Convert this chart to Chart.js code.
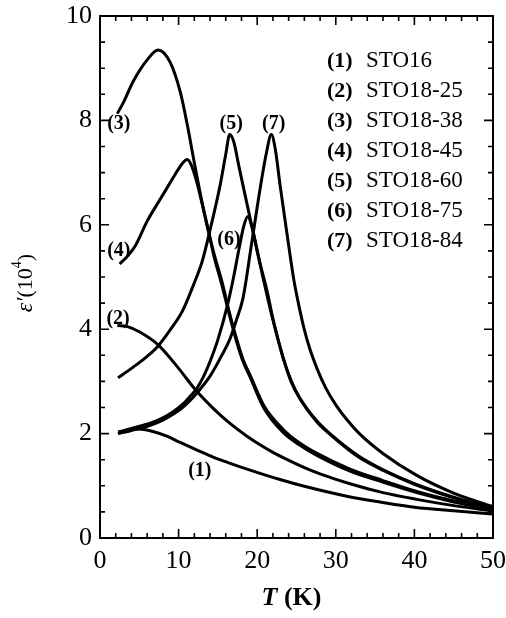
<!DOCTYPE html>
<html>
<head>
<meta charset="utf-8">
<script src="https://cdn.jsdelivr.net/npm/chart.js@4.4.1/dist/chart.umd.min.js"></script>
<style>
body { margin: 0; background: #fff; }
#wrap { width: 506px; height: 618px; position: relative; }
</style>
</head>
<body>
<div id="wrap"><canvas id="myChart"></canvas></div>
<script>
// sample names (legend order)
const names = ['STO16', 'STO18-25', 'STO18-38', 'STO18-45', 'STO18-60', 'STO18-75', 'STO18-84'];

// T (K) and eps' (10^4)
const t1 = [2.3, 3.5, 5, 6.5, 8.5, 10.2, 12.7, 14.4, 16.2, 18.7, 22.9, 26, 31.4, 36, 40, 45, 50];
const e1 = [2.0, 2.07, 2.09, 2.05, 1.95, 1.83, 1.66, 1.55, 1.45, 1.32, 1.12, 0.99, 0.8, 0.68, 0.59, 0.52, 0.46];

const t2 = [2.2, 3.5, 5, 7.4, 10, 12.2, 14.5, 16.5, 18.7, 20, 22, 23.3, 26, 28, 31.8, 36, 40.3, 45, 50];
const e2 = [4.07, 4.05, 3.95, 3.7, 3.25, 2.83, 2.47, 2.2, 1.95, 1.82, 1.64, 1.54, 1.35, 1.23, 1.04, 0.87, 0.74, 0.62, 0.52];

const t3 = [2.2, 3, 4.2, 6, 7.4, 8.9, 10.2, 11.1, 11.9, 12.7, 13.6, 14.5, 15.5, 16.5, 17.5, 18.2, 19.1, 20.8, 23.3, 25.4, 27.6, 31.8, 36, 40.3, 45, 50];
const e3 = [8.13, 8.35, 8.74, 9.16, 9.35, 9.12, 8.55, 7.92, 7.27, 6.64, 6.0, 5.45, 4.92, 4.3, 3.75, 3.42, 3.12, 2.55, 2.08, 1.82, 1.62, 1.32, 1.1, 0.89, 0.71, 0.56];

const t4 = [2.5, 3.5, 4.5, 6, 7.5, 8.5, 9.5, 10.5, 11.1, 11.6, 12.3, 13, 13.7, 14.5, 15.5, 16.5, 17.5, 18.2, 19.1, 20.8, 23.3, 25.4, 27.6, 31.8, 36, 40.3, 45, 50];
const e4 = [5.25, 5.4, 5.6, 6.07, 6.45, 6.7, 6.95, 7.18, 7.25, 7.15, 6.83, 6.4, 5.95, 5.4, 4.85, 4.25, 3.7, 3.38, 3.08, 2.5, 2.02, 1.78, 1.58, 1.28, 1.07, 0.87, 0.69, 0.54];

const t5 = [2.3, 4, 6, 7.4, 9, 10.5, 11.9, 13, 14, 15.3, 16, 16.5, 17, 17.7, 18.7, 19.5, 20.3, 21.3, 22, 23.3, 24.3, 25.4, 27.6, 29.7, 33, 36.1, 40, 45, 50];
const e5 = [3.07, 3.25, 3.48, 3.68, 4.0, 4.35, 4.85, 5.3, 5.9, 6.77, 7.35, 7.73, 7.6, 7.1, 6.4, 5.85, 5.3, 4.7, 4.2, 3.45, 3.0, 2.68, 2.24, 1.94, 1.56, 1.3, 1.04, 0.78, 0.57];

const t6 = [2.3, 4, 6.4, 8, 9.3, 10.5, 11.5, 12.3, 13.2, 14, 15, 16.2, 17, 17.7, 18.3, 18.8, 19.3, 20, 20.8, 21.4, 22.3, 23.3, 24.3, 25.4, 27.6, 29.7, 33, 36.1, 40, 45, 50];
const e6 = [2.03, 2.1, 2.2, 2.3, 2.42, 2.56, 2.72, 2.86, 3.1, 3.38, 3.8, 4.45, 5.0, 5.55, 5.98, 6.16, 5.98, 5.5, 4.95, 4.55, 4.0, 3.45, 3.02, 2.68, 2.22, 1.93, 1.54, 1.29, 1.03, 0.77, 0.56];

const t7 = [2.3, 4, 6.4, 8, 9.3, 10.5, 11.5, 12.3, 14, 15.5, 16.5, 17.3, 18.2, 19.3, 20.4, 21.2, 21.8, 22.3, 22.9, 23.8, 24.6, 25.1, 25.9, 26.7, 27.6, 28.7, 30, 31.5, 33, 36, 40.3, 45, 50];
const e7 = [2.0, 2.06, 2.16, 2.26, 2.37, 2.5, 2.64, 2.77, 3.1, 3.5, 3.8, 4.15, 4.6, 5.65, 6.72, 7.4, 7.73, 7.45, 6.77, 5.82, 5.0, 4.6, 4.05, 3.62, 3.25, 2.88, 2.55, 2.25, 2.0, 1.62, 1.2, 0.86, 0.6];

// axis ticks
const xMin = 0, xMax = 50, xMajor = 10, xMinor = 2;
const yMin = 0, yMax = 10, yMajor = 2, yMinor = 0.5;

// curve number tags, placed in data coordinates
const tagText = ['(3)', '(4)', '(2)', '(5)', '(7)', '(6)', '(1)'];
const tagT = [2.4, 2.4, 2.3, 16.7, 22.1, 16.4, 12.7];
const tagE = [7.94, 5.5, 4.2, 7.94, 7.94, 5.72, 1.28];

function pts(t, e) {
    return t.map(function (x, i) { return { x: x, y: e[i] }; });
}

const serif = "'Liberation Serif', 'DejaVu Serif', serif";
const curves = [[t1, e1], [t2, e2], [t3, e3], [t4, e4], [t5, e5], [t6, e6], [t7, e7]];

const datasets = curves.map(function (c, i) {
    return {
        label: names[i],
        data: pts(c[0], c[1]),
        borderColor: '#000',
        borderWidth: 3,
        pointRadius: 0,
        fill: false,
        cubicInterpolationMode: 'monotone'
    };
});

// frame, inward ticks, tags, legend text and axis titles
const decor = {
    id: 'decor',
    afterDraw(chart) {
        const ctx = chart.ctx;
        const a = chart.chartArea;
        const xs = chart.scales.x;
        const ys = chart.scales.y;
        ctx.save();
        ctx.strokeStyle = '#000';
        ctx.lineWidth = 2;
        ctx.strokeRect(a.left, a.top, a.right - a.left, a.bottom - a.top);

        ctx.lineWidth = 1.6;
        ctx.beginPath();
        for (let v = xMin; v <= xMax; v += xMinor) {
            const px = xs.getPixelForValue(v);
            const len = v % xMajor === 0 ? 9 : 5;
            ctx.moveTo(px, a.bottom); ctx.lineTo(px, a.bottom - len);
            ctx.moveTo(px, a.top); ctx.lineTo(px, a.top + len);
        }
        for (let v = yMin; v <= yMax; v += yMinor) {
            const py = ys.getPixelForValue(v);
            const len = v % yMajor === 0 ? 9 : 5;
            ctx.moveTo(a.left, py); ctx.lineTo(a.left + len, py);
            ctx.moveTo(a.right, py); ctx.lineTo(a.right - len, py);
        }
        ctx.stroke();

        // curve tags
        ctx.fillStyle = '#000';
        ctx.font = 'bold 20px ' + serif;
        ctx.textAlign = 'center';
        ctx.textBaseline = 'middle';
        for (let i = 0; i < tagText.length; i++) {
            ctx.fillText(tagText[i], xs.getPixelForValue(tagT[i]), ys.getPixelForValue(tagE[i]));
        }

        // legend list
        ctx.textAlign = 'left';
        for (let i = 0; i < names.length; i++) {
            const y = a.top + 45 + i * 30;
            ctx.font = 'bold 22px ' + serif;
            ctx.fillText('(' + (i + 1) + ')', a.left + 227, y);
            ctx.font = '23px ' + serif;
            ctx.fillText(names[i], a.left + 266, y);
        }

        // x title: T (K)
        ctx.textBaseline = 'middle';
        ctx.font = 'italic bold 26px ' + serif;
        const wT = ctx.measureText('T').width;
        ctx.font = 'bold 26px ' + serif;
        const wK = ctx.measureText(' (K)').width;
        const cx = (a.left + a.right) / 2 - 5;
        let x0 = cx - (wT + wK) / 2;
        ctx.font = 'italic bold 26px ' + serif;
        ctx.fillText('T', x0, 598);
        ctx.font = 'bold 26px ' + serif;
        ctx.fillText(' (K)', x0 + wT, 598);

        // y title: eps'(10^4)
        ctx.translate(26, 283);
        ctx.rotate(-Math.PI / 2);
        ctx.font = 'italic 24px ' + serif;
        const w1 = ctx.measureText('\u03b5\u2032').width;
        ctx.font = '22px ' + serif;
        const w2 = ctx.measureText('(10').width;
        ctx.font = '14px ' + serif;
        const w3 = ctx.measureText('4').width;
        ctx.font = '22px ' + serif;
        const w4 = ctx.measureText(')').width;
        let s = -(w1 + w2 + w3 + w4) / 2;
        ctx.font = 'italic 24px ' + serif;
        ctx.fillText('\u03b5\u2032', s, 0); s += w1;
        ctx.font = '22px ' + serif;
        ctx.fillText('(10', s, 0); s += w2;
        ctx.font = '14px ' + serif;
        ctx.fillText('4', s, -9); s += w3;
        ctx.font = '22px ' + serif;
        ctx.fillText(')', s, 0);
        ctx.restore();
    }
};

new Chart(document.getElementById('myChart'), {
    type: 'line',
    data: { datasets: datasets },
    options: {
        responsive: true,
        maintainAspectRatio: false,
        animation: false,
        layout: { padding: { left: 0, right: 13, top: 16, bottom: 0 } },
        plugins: {
            legend: { display: false },
            tooltip: { enabled: false }
        },
        scales: {
            x: {
                type: 'linear',
                min: xMin,
                max: xMax,
                grid: { display: false, drawTicks: false },
                border: { display: false },
                ticks: { stepSize: xMajor, padding: 8, color: '#000', font: { family: serif, size: 26 } },
                afterFit(scale) {
                    scale.height = 80;
                    scale.paddingLeft = 0;
                    scale.paddingRight = 0;
                }
            },
            y: {
                type: 'linear',
                min: yMin,
                max: yMax,
                grid: { display: false, drawTicks: false },
                border: { display: false },
                ticks: { stepSize: yMajor, padding: 8, color: '#000', font: { family: serif, size: 26 } },
                afterFit(scale) {
                    scale.width = 100;
                    scale.paddingTop = 0;
                    scale.paddingBottom = 0;
                }
            }
        }
    },
    plugins: [decor]
});
</script>
</body>
</html>
